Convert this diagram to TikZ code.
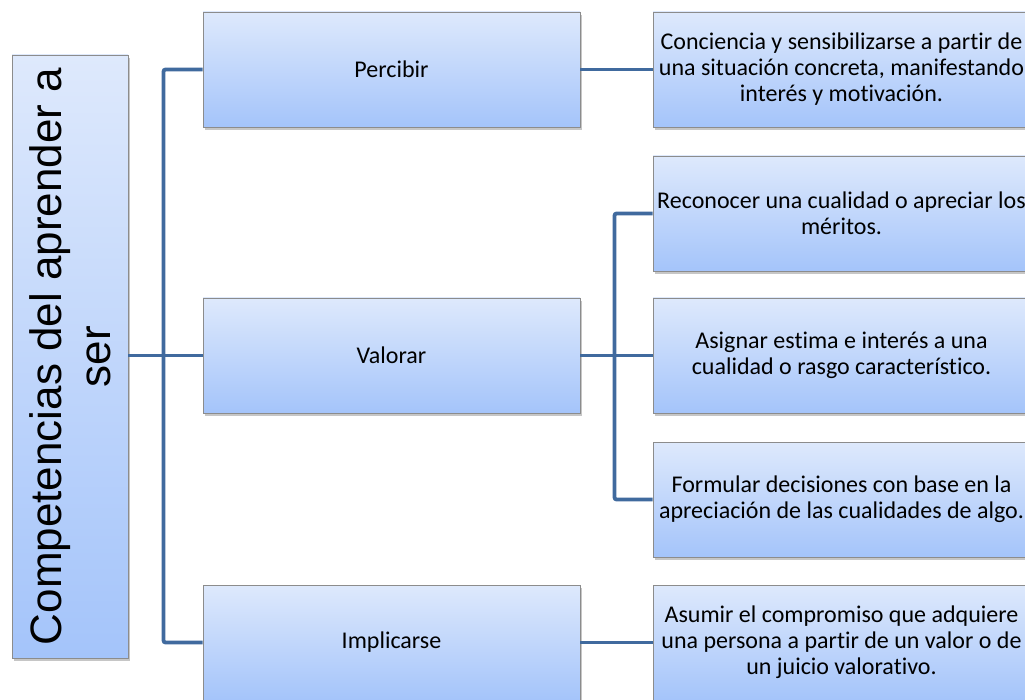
\documentclass[tikz,border=0pt]{standalone}
\usepackage{fontspec}
\setmainfont{Carlito}[Ligatures=NoCommon]
\newfontfamily\titlefont{Liberation Sans}
\usepackage{xcolor}
\usepackage{tikz}
\usetikzlibrary{shadows}

\definecolor{boxtop}{RGB}{222,233,252}
\definecolor{boxbot}{RGB}{164,196,250}
\definecolor{boxline}{RGB}{140,140,140}
\definecolor{linkblue}{RGB}{64,106,158}

\tikzset{
  card/.style={draw=boxline, line width=0.9pt, rectangle,
    top color=boxtop, bottom color=boxbot,
    minimum width=377pt, minimum height=115pt, align=center,
    font=\fontsize{24}{26}\selectfont,
    drop shadow={shadow xshift=2pt, shadow yshift=-3pt, opacity=0.45}},
  link/.style={draw=linkblue, line width=3.8pt, rounded corners=2pt}
}

\begin{document}
\begin{tikzpicture}[x=1pt, y=-1pt]
    \useasboundingbox (0,0) rectangle (1025,700);
    \clip (0,0) rectangle (1025,700);

    % Title box on the left
    \node[card, rotate=90, minimum width=603pt, minimum height=116pt,
      font=\titlefont\fontsize{44}{49}\selectfont] (comp) at (70,356.5)
      {Competencias del aprender a\\ser};

    % Middle column
    \node[card] (percibir) at (391.5,69.5) {Percibir};
    \node[card] (valorar) at (391.5,355.5) {Valorar};
    \node[card] (implicarse) at (391.5,642.5) {Implicarse};

    % Right column
    \node[card] (conciencia) at (841.5,69.5)
      {Conciencia y sensibilizarse a partir de\\una situación concreta, manifestando\\interés y motivación.};
    \node[card] (reconocer) at (841.5,213.5)
      {Reconocer una cualidad o apreciar los\\méritos.};
    \node[card] (asignar) at (841.5,355.5)
      {Asignar estima e interés a una\\cualidad o rasgo característico.};
    \node[card] (formular) at (841.5,499.5)
      {Formular decisiones con base en la\\apreciación de las cualidades de algo.};
    \node[card] (asumir) at (841.5,642.5)
      {Asumir el compromiso que adquiere\\una persona a partir de un valor o de\\un juicio valorativo.};

    % Connectors
    \draw[link] (comp.south |- valorar.west) -- (valorar.west);
    \draw[link] (percibir.west) -- ++(-39,0) |- (implicarse.west);
    \draw[link] (percibir.east) -- (conciencia.west);
    \draw[link] (valorar.east) -- (asignar.west);
    \draw[link] (reconocer.west) -- ++(-38,0) |- (formular.west);
    \draw[link] (implicarse.east) -- (asumir.west);
\end{tikzpicture}
\end{document}
